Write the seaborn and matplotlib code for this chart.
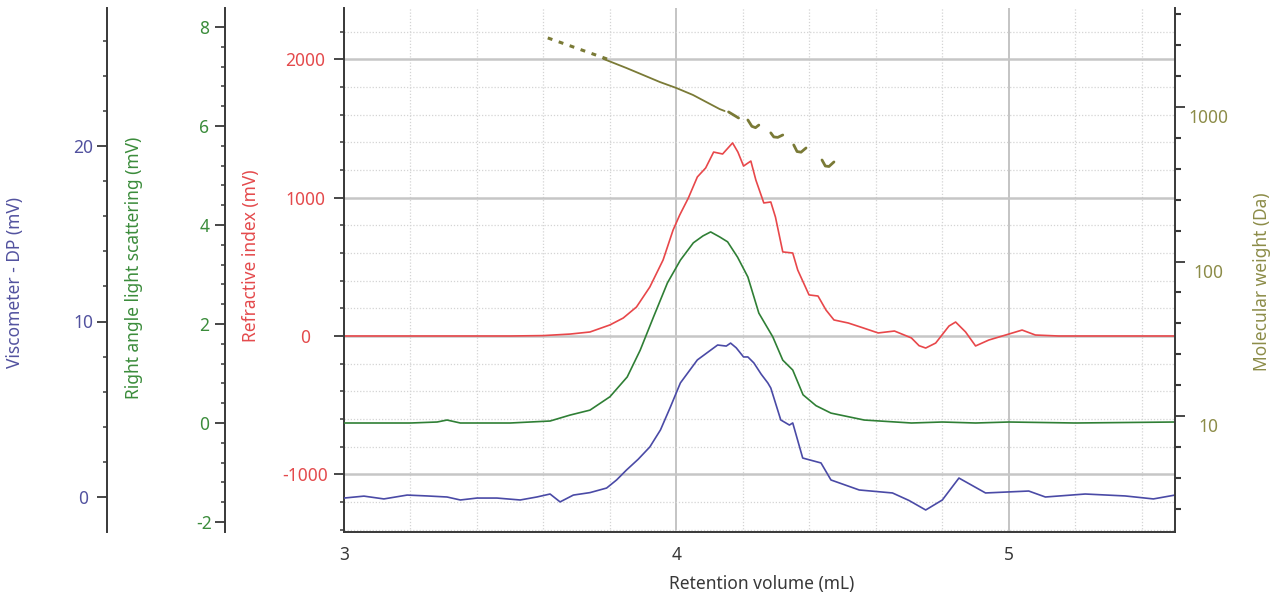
import numpy as np
import pandas as pd
import matplotlib
matplotlib.use("Agg")
import matplotlib.pyplot as plt
import matplotlib.transforms as mtransforms
from matplotlib.ticker import FixedLocator, FixedFormatter, NullFormatter
import seaborn as sns

# Refractive index trace (mV) vs retention volume (mL)
ri_x = [3.00, 3.30, 3.50, 3.60, 3.68, 3.74, 3.80, 3.84, 3.88, 3.92, 3.96, 3.99, 4.01,
        4.036, 4.063, 4.088, 4.112, 4.139, 4.169, 4.185, 4.202, 4.224, 4.239, 4.263,
        4.284, 4.298, 4.320, 4.350, 4.365, 4.399, 4.426, 4.450, 4.474, 4.517, 4.56,
        4.607, 4.656, 4.707, 4.73, 4.75, 4.78, 4.82, 4.84, 4.87, 4.90, 4.94, 5.00,
        5.04, 5.08, 5.15, 5.30, 5.50]
ri_y = [0, 0, 0, 3, 14, 29, 80, 130, 210, 354, 550, 766, 875,
        998, 1150, 1215, 1330, 1316, 1396, 1330, 1229, 1265, 1128, 962,
        969, 860, 608, 600, 477, 297, 289, 188, 116, 94, 60,
        22, 36, -14, -70, -87, -51, 72, 101, 29, -72, -29, 14,
        43, 7, 0, 0, 0]

# Right angle light scattering trace (mV)
ls_x = [3.00, 3.20, 3.28, 3.31, 3.35, 3.50, 3.62, 3.68, 3.74, 3.80, 3.852, 3.891,
        3.931, 3.973, 4.012, 4.051, 4.08, 4.103, 4.13, 4.154, 4.184, 4.215, 4.248,
        4.290, 4.320, 4.350, 4.381, 4.42, 4.465, 4.565, 4.707, 4.80, 4.90, 5.00,
        5.20, 5.50]
ls_y = [0.00, 0.00, 0.02, 0.06, 0.00, 0.00, 0.04, 0.16, 0.26, 0.53, 0.93, 1.47,
        2.14, 2.83, 3.29, 3.64, 3.78, 3.86, 3.76, 3.66, 3.35, 2.95, 2.22,
        1.74, 1.27, 1.07, 0.57, 0.35, 0.20, 0.06, 0.00, 0.02, 0.00, 0.02,
        0.00, 0.02]

# Viscometer differential pressure trace (mV)
dp_x = [3.00, 3.06, 3.12, 3.19, 3.25, 3.31, 3.35, 3.40, 3.46, 3.53, 3.58, 3.62, 3.65,
        3.69, 3.74, 3.79, 3.82, 3.85, 3.885, 3.92, 3.952, 3.982, 4.012, 4.063, 4.124,
        4.15, 4.163, 4.18, 4.202, 4.215, 4.233, 4.255, 4.275, 4.284, 4.314, 4.34,
        4.35, 4.38, 4.435, 4.465, 4.55, 4.65, 4.70, 4.75, 4.80, 4.85, 4.93, 5.06,
        5.11, 5.23, 5.35, 5.435, 5.50]
dp_y = [-0.06, 0.05, -0.11, 0.11, 0.06, 0.00, -0.17, -0.06, -0.06, -0.17, 0.00, 0.17,
        -0.28, 0.11, 0.25, 0.51, 0.97, 1.54, 2.15, 2.85, 3.82, 5.13, 6.50, 7.81, 8.66,
        8.60, 8.77, 8.50, 7.98, 7.98, 7.64, 7.00, 6.50, 6.21, 4.39, 4.10,
        4.22, 2.22, 1.94, 0.97, 0.40, 0.23, -0.20, -0.74, -0.17, 1.08, 0.23, 0.34,
        0.00, 0.17, 0.06, -0.11, 0.11]

# Molecular weight (Da): dashed head, solid body, broken tail
mw_head_x = [3.613, 3.69, 3.80]
mw_head_y = [2800, 2445, 2014]
mw_body_x = [3.78, 3.85, 3.90, 3.95, 4.00, 4.05, 4.09, 4.13, 4.145]
mw_body_y = [2050, 1787, 1611, 1452, 1327, 1196, 1077, 970, 942]
mw_tail_x = [4.157, 4.187, 4.215, 4.227, 4.238, 4.248, 4.284, 4.293, 4.305, 4.320,
             4.353, 4.363, 4.375, 4.390, 4.438, 4.448, 4.459, 4.474]
mw_tail_y = [929, 849, 824, 750, 735, 764, 680, 640, 636, 659, 568, 515, 510, 543,
             454, 415, 412, 441]
mw_tail_seg = [0, 0, 1, 1, 1, 1, 2, 2, 2, 2, 3, 3, 3, 3, 4, 4, 4, 4]

ri_ticks = [-1000, 0, 1000, 2000]
ls_ticks = [-2, 0, 2, 4, 6, 8]
dp_ticks = [0, 10, 20]
mw_ticks = [10, 100, 1000]
x_ticks = [3, 4, 5]

RED, GREEN, BLUE, OLIVE = "#e8474a", "#2f7f35", "#4a4aa6", "#7a7a36"
RED_T, GREEN_T, BLUE_T, OLIVE_T = "#e44a4c", "#3b8c3b", "#52529f", "#8c8c48"
DARK = "#383838"

sns.set_theme(style="white")
plt.rcParams['font.family'] = ['Noto Sans', 'DejaVu Sans']
plt.rcParams['axes.unicode_minus'] = False
FS = 12.5

fig = plt.figure(figsize=(12.8, 6.04), dpi=100)
W, H = 1280, 604
L, R, T, B = 344, 1175, 8, 532
ax = fig.add_axes([L / W, 1 - B / H, (R - L) / W, (B - T) / H])
ax_ls = ax.twinx()
ax_dp = ax.twinx()
ax_mw = ax.twinx()

sns.lineplot(x=ri_x, y=ri_y, ax=ax, color=RED, lw=1.2)
sns.lineplot(x=ls_x, y=ls_y, ax=ax_ls, color=GREEN, lw=1.2)
sns.lineplot(x=dp_x, y=dp_y, ax=ax_dp, color=BLUE, lw=1.2)
sns.lineplot(x=mw_head_x, y=mw_head_y, ax=ax_mw, color=OLIVE, lw=2.2,
             linestyle=(0, (1.6, 2.2)))
sns.lineplot(x=mw_body_x, y=mw_body_y, ax=ax_mw, color=OLIVE, lw=1.3)
sns.lineplot(x=mw_tail_x, y=mw_tail_y, units=mw_tail_seg, estimator=None,
             ax=ax_mw, color=OLIVE, lw=2.0)

ax.set_xlim(3, 5.5)
ax.set_ylim((336 - B) / 0.1383, (336 - T) / 0.1383)
ax_ls.set_ylim((423 - B) / 49.5, (423 - T) / 49.5)
ax_dp.set_ylim((497 - B) / 17.55, (497 - T) / 17.55)
ax_mw.set_yscale("log")
ax_mw.set_ylim(10 ** (1 - (B - 416) / 154.5), 10 ** (3 + (107 - T) / 154.5))

# x axis
ax.xaxis.set_major_locator(FixedLocator(x_ticks))
ax.xaxis.set_minor_locator(FixedLocator(np.arange(3.2, 5.5, 0.2)))
ax.tick_params(axis="x", which="major", length=7, width=1.3, color=DARK,
               labelsize=FS, labelcolor=DARK, pad=3)
ax.tick_params(axis="x", which="minor", length=4, width=1.1, color=DARK)

# grid on the RI axes
ax.yaxis.set_major_locator(FixedLocator(ri_ticks))
ax.yaxis.set_minor_locator(FixedLocator(np.arange(-1400, 2400, 200)))
ax.set_axisbelow(True)
ax.yaxis.grid(True, which="major", color="#c6c6c6", lw=1.8, ls="-")
ax.xaxis.grid(True, which="major", color="#b4b4b4", lw=1.1, ls="-")
ax.grid(True, which="minor", color="#d4d4d4", lw=0.9, ls=(0, (1, 1.5)))

for a in (ax, ax_ls, ax_dp, ax_mw):
    for s in a.spines.values():
        s.set_visible(False)
        s.set_color(DARK)
        s.set_linewidth(1.4)

ax.spines["bottom"].set_visible(True)
ax.spines["left"].set_visible(True)
ax.tick_params(axis="y", which="major", length=7, width=1.3, color=DARK,
               labelsize=FS, labelcolor=RED_T, pad=21)
ax.tick_params(axis="y", which="minor", length=3, width=1.1, color=DARK)

for a, pos, ticks, minor, col, pad in [
        (ax_ls, -119 / 831, ls_ticks, np.arange(-2, 8.4, 0.4), GREEN_T, 8),
        (ax_dp, -237 / 831, dp_ticks, np.arange(-2, 28, 2), BLUE_T, 10)]:
    a.yaxis.set_ticks_position("left")
    a.spines["left"].set_visible(True)
    a.spines["left"].set_position(("axes", pos))
    a.yaxis.set_major_locator(FixedLocator(ticks))
    a.yaxis.set_minor_locator(FixedLocator(minor))
    a.tick_params(axis="y", which="major", length=7, width=1.3, color=DARK,
                  labelsize=FS, labelcolor=col, pad=pad)
    a.tick_params(axis="y", which="minor", length=3, width=1.1, color=DARK)

ax_mw.spines["right"].set_visible(True)
ax_mw.yaxis.set_major_locator(FixedLocator(mw_ticks))
ax_mw.yaxis.set_major_formatter(FixedFormatter([str(v) for v in mw_ticks]))
ax_mw.yaxis.set_minor_locator(FixedLocator([10 ** (k / 5) for k in range(2, 19) if k % 5]))
ax_mw.yaxis.set_minor_formatter(NullFormatter())
ax_mw.tick_params(axis="y", which="major", length=7, width=1.3, color=DARK,
                  labelsize=FS, labelcolor=OLIVE_T, pad=17)
ax_mw.tick_params(axis="y", which="minor", length=4, width=1.5, color=DARK)

# tick labels are centred on a column, MW labels sit a little below their ticks
for a in (ax, ax_ls, ax_dp, ax_mw):
    for lbl in a.get_yticklabels():
        lbl.set_horizontalalignment("center")
down = mtransforms.ScaledTranslation(0, -0.09, fig.dpi_scale_trans)
for lbl in ax_mw.get_yticklabels():
    lbl.set_transform(lbl.get_transform() + down)

for a, text, col, px, py in [
        (ax_dp, "Viscometer - DP (mV)", BLUE_T, 15, 282),
        (ax_ls, "Right angle light scattering (mV)", GREEN_T, 134, 268),
        (ax, "Refractive index (mV)", RED_T, 251, 256),
        (ax_mw, "Molecular weight (Da)", OLIVE_T, 1262, 282)]:
    a.set_ylabel(text, color=col, fontsize=FS, va="center")
    a.yaxis.set_label_coords(px / W, 1 - py / H, transform=fig.transFigure)

ax.set_xlabel("Retention volume (mL)", color=DARK, fontsize=FS, va="center")
ax.xaxis.set_label_coords(762 / W, 1 - 584 / H, transform=fig.transFigure)

fig.savefig("out.png", dpi=100)
